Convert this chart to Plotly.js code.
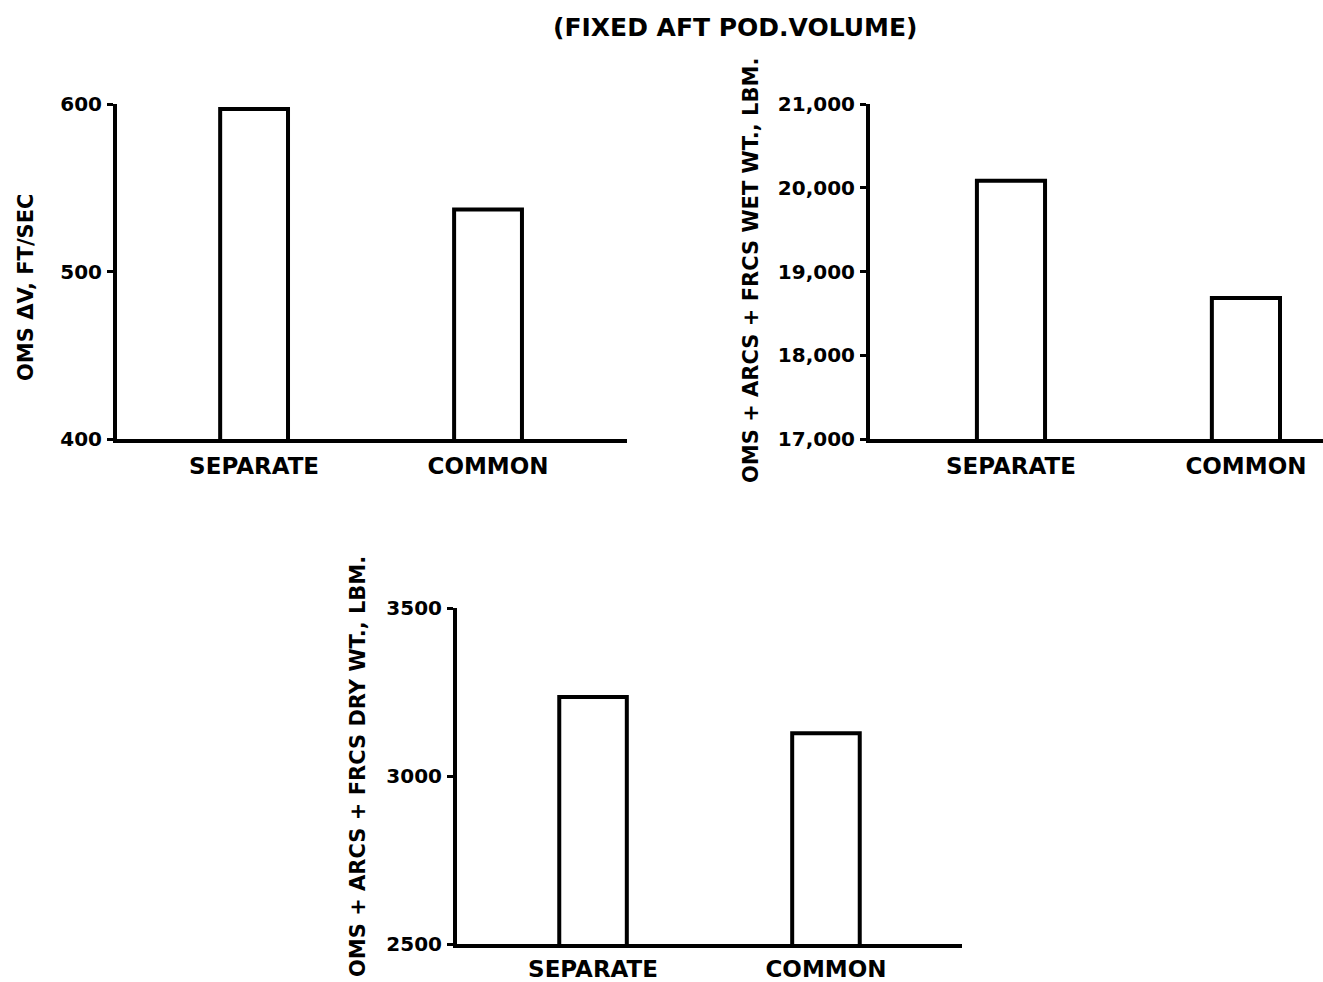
<!DOCTYPE html>
<html>
<head>
<meta charset="utf-8">
<script src="https://cdn.plot.ly/plotly-3.0.1.min.js"></script>
<style>html,body{margin:0;padding:0;background:#fff;}#chart{width:1323px;height:982px;}</style>
</head>
<body>
<div id="chart"></div>
<script>
// Data
const categories = ["SEPARATE", "COMMON"];
const omsDeltaV = [597, 537];            // ft/sec
const wetWeight = [20085, 18685];        // lbm
const dryWeight = [3235, 3127];          // lbm

const chartTitle = "(FIXED AFT POD.VOLUME)";
const yTitle1 = "OMS ΔV, FT/SEC";
const yTitle2 = "OMS + ARCS + FRCS WET WT., LBM.";
const yTitle3 = "OMS + ARCS + FRCS DRY WT., LBM.";

const FONT = "DejaVu Sans, sans-serif";
const barStyle = {color: "#ffffff", line: {color: "#000000", width: 4}};

function bar(y, xa, ya) {
  return {type: "bar", x: categories, y: y, xaxis: xa, yaxis: ya, width: 0.29,
          marker: barStyle, showlegend: false, hoverinfo: "x+y"};
}

const traces = [bar(omsDeltaV, "x", "y"), bar(wetWeight, "x2", "y2"), bar(dryWeight, "x3", "y3")];

function f(size) { return {family: FONT, size: size, color: "#000", weight: "bold"}; }

function xax(domain, range, anchor, standoff) {
  return {domain: domain, anchor: anchor, type: "category", range: range,
          showline: true, linecolor: "#000", linewidth: 4, ticks: "",
          showgrid: false, zeroline: false, fixedrange: true,
          tickfont: f(23), ticklabelstandoff: standoff};
}
function yax(domain, range, dtick, fmt, anchor) {
  return {domain: domain, anchor: anchor, range: range, dtick: dtick, tickformat: fmt,
          showline: true, linecolor: "#000", linewidth: 4, ticks: "outside",
          ticklen: 6, tickwidth: 3, tickcolor: "#000", showgrid: false, zeroline: false,
          tickfont: f(20), fixedrange: true, ticklabelstandoff: 1};
}

const W = 1323, H = 982;
const px = v => v / W;
const py = v => 1 - v / H;

function vtitle(text, x, y) {
  return {text: text, xref: "paper", yref: "paper", x: px(x), y: py(y), textangle: -90,
          xanchor: "center", yanchor: "middle", showarrow: false, font: f(21)};
}

const layout = {
  width: W, height: H,
  margin: {l: 0, r: 0, t: 0, b: 0},
  paper_bgcolor: "#fff", plot_bgcolor: "rgba(0,0,0,0)",
  font: {family: FONT, color: "#000"},
  xaxis:  xax([px(117), px(627)], [-0.586, 1.594], "y", 3),
  yaxis:  yax([py(439), py(104)], [400, 600], 100, "d", "x"),
  xaxis2: xax([px(870), 1.0], [-0.6, 1.328], "y2", 3),
  yaxis2: yax([py(439), py(104)], [17000, 21000], 1000, ",d", "x2"),
  xaxis3: xax([px(457), px(962)], [-0.584, 1.584], "y3", 1),
  yaxis3: yax([py(944), py(608)], [2500, 3500], 500, "d", "x3"),
  annotations: [
    {text: chartTitle, xref: "paper", yref: "paper", x: px(735), y: py(27),
     xanchor: "center", yanchor: "middle", showarrow: false, font: f(25)},
    vtitle(yTitle1, 26, 287),
    vtitle(yTitle2, 751, 271),
    vtitle(yTitle3, 358, 767)
  ]
};

Plotly.newPlot("chart", traces, layout, {displayModeBar: false, staticPlot: true});
</script>
</body>
</html>
